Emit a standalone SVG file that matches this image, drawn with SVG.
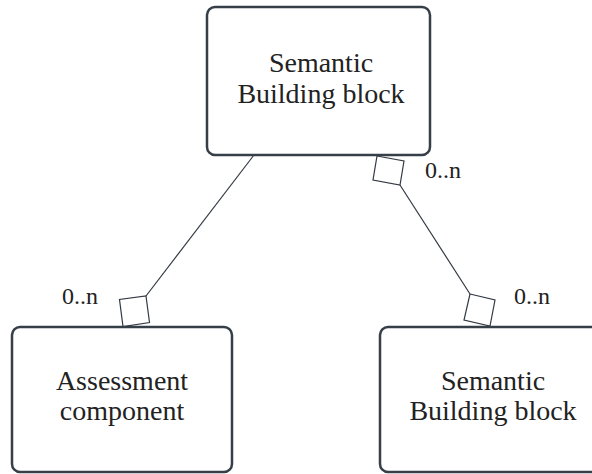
<svg xmlns="http://www.w3.org/2000/svg" width="592" height="474" viewBox="0 0 592 474">
<style>
.box{fill:#ffffff;stroke:#363e48;stroke-width:2.5}
.lbl{font-family:"Liberation Serif","Times New Roman",serif;font-size:28px;fill:#222222;text-anchor:middle}
.mult{font-family:"Liberation Serif","Times New Roman",serif;font-size:24px;fill:#222222}
.conn{fill:none;stroke:#333a44;stroke-width:1.2}
.dia{fill:#ffffff;stroke:#333a44;stroke-width:1.2}
</style>
<rect width="592" height="474" fill="#ffffff"/>
<g id="connectors">
<line class="conn" x1="254" y1="155" x2="146" y2="296"/>
<polygon class="dia" points="146,296 149.5,322.5 123,326.5 119.5,299.5"/>
<text class="mult" x="62" y="304">0..n</text>
<polygon class="dia" points="377,156 404,161 400,185 373,180"/>
<line class="conn" x1="400" y1="185" x2="470" y2="294"/>
<polygon class="dia" points="470,294 495,300 490,326 464,320"/>
<text class="mult" x="425" y="178">0..n</text>
<text class="mult" x="514" y="304">0..n</text>
</g>
<g id="node-top">
<rect class="box" x="207" y="7" width="223" height="148" rx="8"/>
<text class="lbl" x="321" y="72">Semantic</text>
<text class="lbl" x="321" y="103">Building block</text>
</g>
<g id="node-assessment">
<rect class="box" x="12" y="327" width="220" height="145" rx="8"/>
<text class="lbl" x="122" y="390">Assessment</text>
<text class="lbl" x="122" y="420">component</text>
</g>
<g id="node-bottom-right">
<rect class="box" x="380" y="327" width="226" height="145" rx="8"/>
<text class="lbl" x="493" y="390">Semantic</text>
<text class="lbl" x="493" y="420">Building block</text>
</g>
</svg>
